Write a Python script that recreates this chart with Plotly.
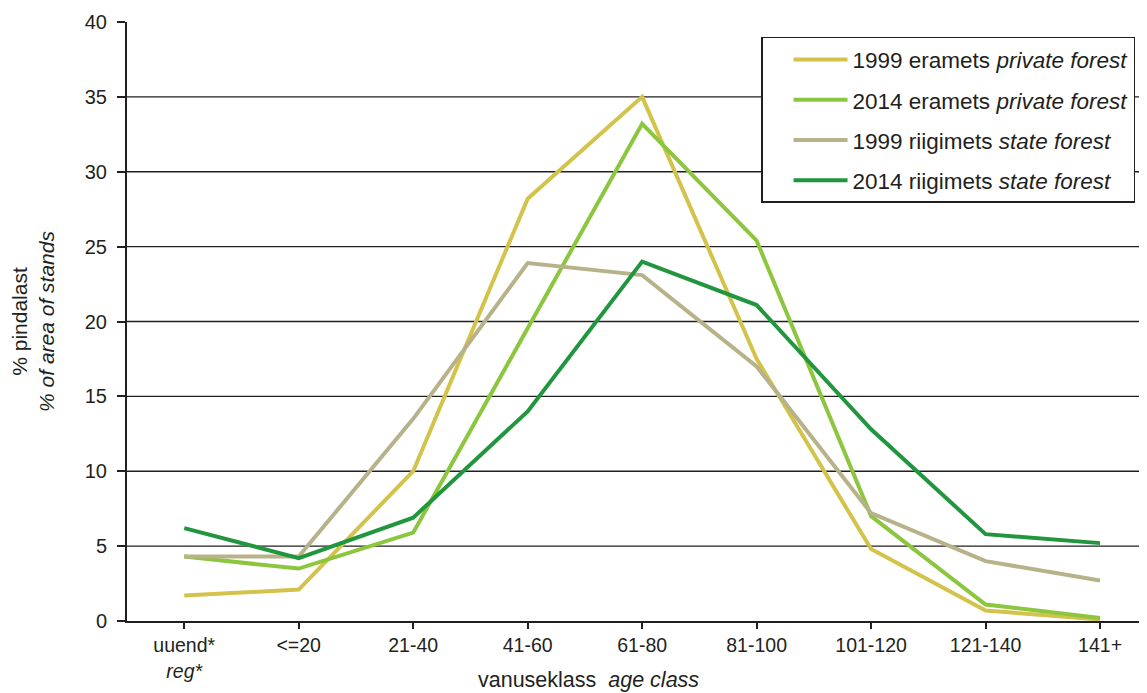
import plotly.graph_objects as go

# age classes (x categories)
age_classes = ["uuend*<br><i>reg*</i>", "<=20", "21-40", "41-60", "61-80",
               "81-100", "101-120", "121-140", "141+"]

# % of area of stands
private_1999 = [1.7, 2.1, 10.0, 28.2, 35.0, 17.5, 4.8, 0.7, 0.1]
private_2014 = [4.3, 3.5, 5.9, 19.5, 33.2, 25.4, 7.0, 1.1, 0.2]
state_1999 = [4.3, 4.3, 13.5, 23.9, 23.1, 17.0, 7.2, 4.0, 2.7]
state_2014 = [6.2, 4.2, 6.9, 14.0, 24.0, 21.1, 12.8, 5.8, 5.2]

series_names = [
    "1999 eramets <i>private forest</i>",
    "2014 eramets <i>private forest</i>",
    "1999 riigimets <i>state forest</i>",
    "2014 riigimets <i>state forest</i>",
]
series_values = [private_1999, private_2014, state_1999, state_2014]
series_colors = ["#d3c34b", "#8cc63e", "#b7b28a", "#22963e"]

y_ticks = [0, 5, 10, 15, 20, 25, 30, 35, 40]

ink = "#231f20"
font_family = "Liberation Sans, Arial, sans-serif"

fig = go.Figure()

# horizontal grid lines (none at 0 or 40)
for yv in y_ticks[1:-1]:
    fig.add_shape(type="line", xref="paper", x0=0, x1=1, yref="y", y0=yv, y1=yv,
                  line=dict(color=ink, width=1.3), layer="below")

for i, (name, vals, col) in enumerate(zip(series_names, series_values, series_colors)):
    fig.add_trace(go.Scatter(
        x=list(range(len(age_classes))),
        y=vals,
        mode="lines",
        name=name,
        legendgroup=f"g{i}",
        line=dict(color=col, width=4),
    ))

# the page body adds an 8px margin, so the figure is 8px smaller than the window
fig.update_layout(
    width=1139,
    height=685,
    margin=dict(l=119, r=0, t=14, b=72),
    plot_bgcolor="white",
    paper_bgcolor="white",
    font=dict(family=font_family, size=20, color=ink),
    showlegend=True,
    legend=dict(
        x=0.6216, y=0.975, xanchor="left", yanchor="top",
        bordercolor=ink, borderwidth=1.5, bgcolor="white",
        font=dict(size=22.5, color=ink),
        tracegroupgap=8,
        traceorder="grouped",
        itemwidth=54,
        indentation=26,
    ),
    xaxis=dict(
        tickmode="array",
        tickvals=list(range(len(age_classes))),
        ticktext=age_classes,
        range=[-0.5, 8.41],
        showgrid=False,
        zeroline=False,
        showline=True,
        linecolor=ink,
        linewidth=2,
        ticks="outside",
        tickson="boundaries",
        ticklen=6,
        tickwidth=1.5,
        tickcolor=ink,
        tickfont=dict(size=19.5),
    ),
    yaxis=dict(
        range=[0, 40],
        tickvals=y_ticks,
        showgrid=False,
        zeroline=False,
        showline=True,
        linecolor=ink,
        linewidth=2,
        ticks="outside",
        ticklen=8,
        tickwidth=1.5,
        tickcolor=ink,
        ticklabelstandoff=6,
        tickfont=dict(size=20),
        title=dict(text="% pindalast<br><i>% of area of stands</i>",
                   font=dict(size=21), standoff=26),
    ),
)

fig.add_annotation(
    text="vanuseklass  <i>age class</i>",
    xref="paper", yref="paper", x=0.452, y=0, yanchor="top",
    yshift=-45, showarrow=False, font=dict(size=21.5, color=ink),
)

fig.write_html("out.html")
